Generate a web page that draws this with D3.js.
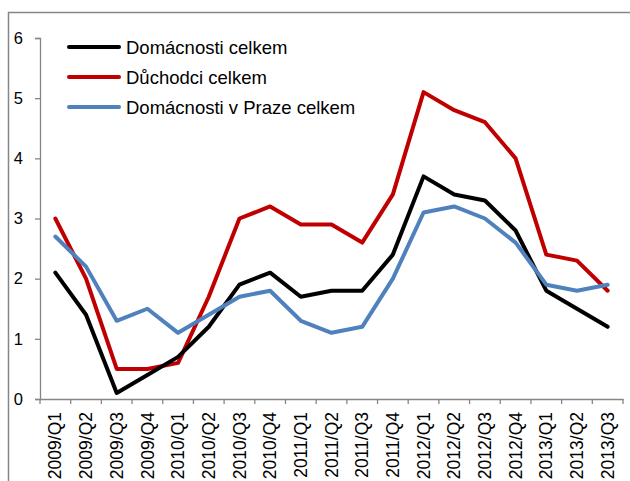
<!DOCTYPE html>
<html><head><meta charset="utf-8">
<script src="https://cdn.jsdelivr.net/npm/d3@7"></script>
<style>body{margin:0;background:#fff;}svg{display:block;}</style>
</head><body>
<svg id="c" width="630" height="481"></svg>
<script>
const categories = ["2009/Q1","2009/Q2","2009/Q3","2009/Q4","2010/Q1","2010/Q2","2010/Q3","2010/Q4","2011/Q1","2011/Q2","2011/Q3","2011/Q4","2012/Q1","2012/Q2","2012/Q3","2012/Q4","2013/Q1","2013/Q2","2013/Q3"];
const domacnosti = [2.1,1.4,0.1,0.4,0.7,1.2,1.9,2.1,1.7,1.8,1.8,2.4,3.7,3.4,3.3,2.8,1.8,1.5,1.2];
const duchodci = [3.0,2.0,0.5,0.5,0.6,1.7,3.0,3.2,2.9,2.9,2.6,3.4,5.1,4.8,4.6,4.0,2.4,2.3,1.8];
const praha = [2.7,2.2,1.3,1.5,1.1,1.4,1.7,1.8,1.3,1.1,1.2,2.0,3.1,3.2,3.0,2.6,1.9,1.8,1.9];
const seriesNames = ["Domácnosti celkem","Důchodci celkem","Domácnosti v Praze celkem"];
const seriesColors = ["#000000","#C00000","#4F81BD"];
const yTicks = [0,1,2,3,4,5,6];

const svg = d3.select("#c");
const font = "Arial, 'Liberation Sans', sans-serif";
// frame
svg.append("rect").attr("x",8.5).attr("y",12.5).attr("width",700).attr("height",600)
  .attr("fill","none").attr("stroke","#868686").attr("stroke-width",1.5);

const x0 = 40, x1 = 623, y0 = 399, y1 = 38;
const x = d3.scaleBand().domain(categories).range([x0,x1]);
const y = d3.scaleLinear().domain([0,6]).range([y0,y1]);

// y axis
const ya = svg.append("g").attr("transform",`translate(${x0},0)`)
  .call(d3.axisLeft(y).tickValues(yTicks).tickSize(5).tickPadding(12).tickFormat(d3.format("d")));
ya.select(".domain").attr("stroke","#868686").attr("stroke-width",1.3);
ya.selectAll(".tick line").attr("stroke","#868686").attr("stroke-width",1.3);
ya.selectAll("text").attr("font-family",font).attr("font-size","16.5px").attr("fill","#000");

// x axis
const xa = svg.append("g").attr("transform",`translate(0,${y0})`)
  .call(d3.axisBottom(x).tickSize(0).tickPadding(0));
xa.select(".domain").attr("stroke","#868686").attr("stroke-width",1.3);
xa.selectAll(".tick line").remove();
const bounds = categories.map(c=>x(c)).concat([x1]);
xa.selectAll(".bt").data(bounds).enter().append("line")
  .attr("x1",d=>d).attr("x2",d=>d).attr("y1",0).attr("y2",5)
  .attr("stroke","#868686").attr("stroke-width",1.3);
xa.selectAll(".tick text")
  .attr("font-family",font).attr("font-size","17.5px").attr("fill","#000")
  .attr("text-anchor","end").attr("dy","0.35em")
  .attr("transform","translate(0,13) rotate(-90)")
  .attr("y",0).attr("x",0);

// lines
const all = [domacnosti, duchodci, praha];
const line = d3.line().x((d,i)=>x(categories[i])+x.bandwidth()/2).y(d=>y(d));
const order = [1,0,2];
order.forEach(k=>{
  svg.append("path").datum(all[k]).attr("d",line).attr("fill","none")
    .attr("stroke",seriesColors[k]).attr("stroke-width",4)
    .attr("stroke-linejoin","round").attr("stroke-linecap","round");
});

// legend
const lg = svg.append("g");
seriesNames.forEach((n,i)=>{
  const ly = 47 + i*30;
  lg.append("line").attr("x1",69).attr("x2",119).attr("y1",ly).attr("y2",ly)
    .attr("stroke",seriesColors[i]).attr("stroke-width",4).attr("stroke-linecap","round");
  lg.append("text").attr("x",126).attr("y",ly).attr("dy","0.36em")
    .attr("font-family",font).attr("font-size","18.5px").attr("fill","#000").text(n);
});
</script>
</body></html>
